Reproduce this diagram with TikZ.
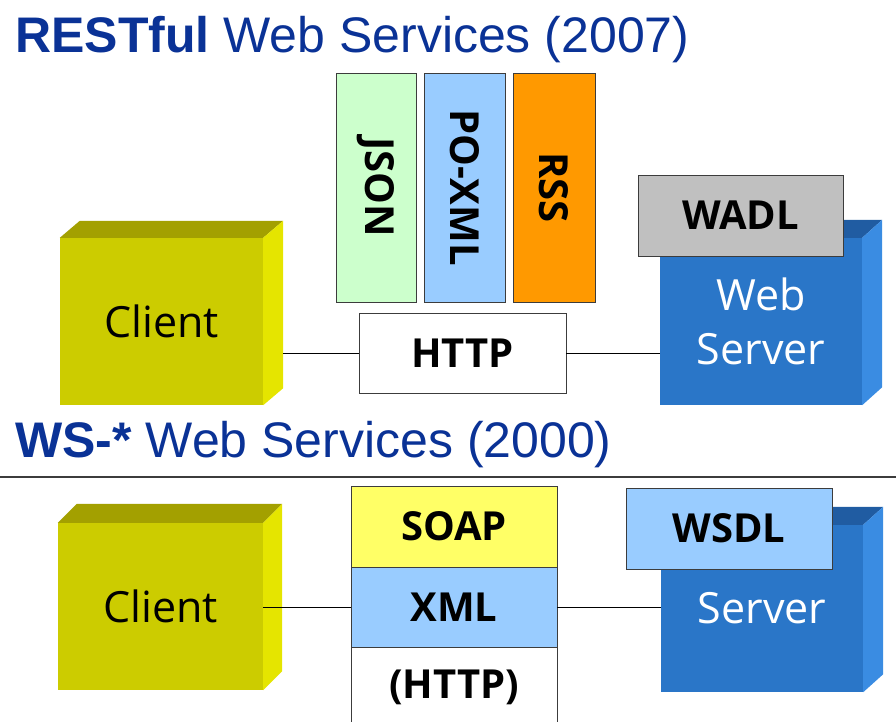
\documentclass[tikz,border=0pt]{standalone}
\usepackage{fontspec}
\setmainfont{Liberation Sans}
\newfontfamily\boxfont{Open Sans}

\definecolor{titleblue}{RGB}{10,50,150}
\definecolor{olivefront}{RGB}{204,204,0}
\definecolor{olivetop}{RGB}{163,160,0}
\definecolor{oliveside}{RGB}{229,229,0}
\definecolor{bluefront}{RGB}{42,118,200}
\definecolor{bluetop}{RGB}{32,92,162}
\definecolor{blueside}{RGB}{58,140,226}
\definecolor{lightblue}{RGB}{153,204,255}
\definecolor{lightgreen}{RGB}{204,255,204}
\definecolor{orangebox}{RGB}{255,153,0}
\definecolor{yellowbox}{RGB}{255,255,102}
\definecolor{graybox}{RGB}{192,192,192}
\definecolor{boxline}{RGB}{60,60,60}

% top and right faces of a 3D block, drawn from its front face node
\newcommand\cubesides[5]{%
  \fill[#4] (#1.north west) -- ++(#2,-#3) -- ([shift={(#2,-#3)}]#1.north east) -- (#1.north east) -- cycle;
  \fill[#5] (#1.north east) -- ++(#2,-#3) -- ([shift={(#2,-#3)}]#1.south east) -- (#1.south east) -- cycle;
}

\begin{document}
\begin{tikzpicture}[x=1pt,y=-1pt,
  title/.style={anchor=base west, inner sep=0pt, text=titleblue, font=\fontsize{50}{56}\selectfont},
  blockface/.style={draw=none, inner sep=0pt, minimum width=203pt, minimum height=167pt,
    font=\boxfont\fontsize{43}{54}\selectfont, align=center},
  panel/.style={draw=boxline, line width=0.9pt, inner sep=0pt,
    font=\boxfont\bfseries\fontsize{40}{48}\selectfont},
  wire/.style={draw=black, line width=1pt}]
\useasboundingbox (0,0) rectangle (896,722);

% ---------- RESTful ----------
\node[title] (t1) at (15,53) {\textbf{RESTful} Web Services (2007)};

\node[blockface, fill=olivefront] (c1) at (161.5,321.5) {Client};
\cubesides{c1}{20}{17}{olivetop}{oliveside}

\node[blockface, fill=bluefront, text=white, minimum width=202pt] (s1) at (761,321.5) {Web\\Server};
\cubesides{s1}{20}{18}{bluetop}{blueside}
\node[panel, fill=graybox, minimum width=205pt, minimum height=81pt] (wadl) at (740.5,215.5) {WADL};

\node[panel, fill=lightgreen, minimum width=80pt, minimum height=229pt] (json) at (376,187.5) {};
\node[rotate=-90, font=\boxfont\bfseries\fontsize{40}{48}\selectfont] at (json.center) {JSON};
\node[panel, fill=lightblue, minimum width=81pt, minimum height=229pt] (poxml) at (464.5,187.5) {};
\node[rotate=-90, font=\boxfont\bfseries\fontsize{40}{48}\selectfont] at (poxml.center) {PO-XML};
\node[panel, fill=orangebox, minimum width=82pt, minimum height=229pt] (rss) at (554,187.5) {};
\node[rotate=-90, font=\boxfont\bfseries\fontsize{40}{48}\selectfont] at (rss.center) {RSS};

\node[panel, fill=white, minimum width=207pt, minimum height=80pt] (http) at (462.5,353) {HTTP};

\draw[wire] ([xshift=20pt]c1.east |- http.west) -- (http.west);
\draw[wire] (http.east) -- (s1.west |- http.east);

% ---------- WS-* ----------
\node[title] (t2) at (15,457) {\textbf{WS-*} Web Services (2000)};
\coordinate (sepL) at (0,477);
\coordinate (sepR) at (896,477);
\draw[draw=boxline, line width=1.8pt] (sepL) -- (sepR);

\node[blockface, fill=olivefront, minimum width=205pt] (c2) at (160.5,606.5) {Client};
\cubesides{c2}{19}{19}{olivetop}{oliveside}

\node[blockface, fill=bluefront, text=white, minimum width=202pt] (s2) at (762,608.5) {Server};
\cubesides{s2}{20}{18}{bluetop}{blueside}
\node[panel, fill=lightblue, minimum width=206pt, minimum height=81pt] (wsdl) at (729,528.5) {WSDL};

\node[panel, fill=yellowbox, minimum width=206pt, minimum height=81pt] (soap) at (454,526.5) {SOAP};
\node[panel, fill=lightblue, minimum width=206pt, minimum height=80pt] (xml) at (454,607) {XML};
\node[panel, fill=white, minimum width=206pt, minimum height=81pt] (http2) at (454,687.5) {(HTTP)};

\draw[wire] (c2.east |- xml.west) -- (xml.west);
\draw[wire] (xml.east) -- (s2.west |- xml.east);
\end{tikzpicture}
\end{document}
